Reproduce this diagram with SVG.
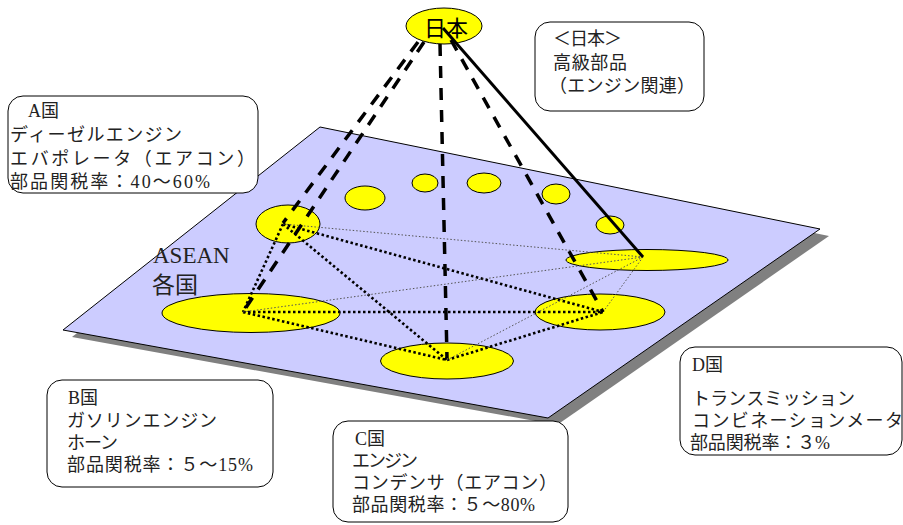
<svg xmlns="http://www.w3.org/2000/svg" width="903" height="525" viewBox="0 0 903 525">
<defs>
<style>
.plane{fill:#CCCCFF;stroke:#000;stroke-width:1}
.shadow{fill:#808080;stroke:none}
.yel{fill:#FFFF00;stroke:#000;stroke-width:1}
.heavy{stroke:#000;stroke-width:2.6;stroke-dasharray:2.5 2.5;fill:none}
.thin{stroke:#555;stroke-width:1;stroke-dasharray:1.5 2;fill:none}
.dash{stroke:#000;stroke-width:3.5;stroke-dasharray:12 10;fill:none}
.solid{stroke:#000;stroke-width:3;fill:none}
.box{fill:#fff;stroke:#000;stroke-width:1}
.t{font-family:"Liberation Serif","Noto Sans CJK JP",serif;font-size:18px;fill:#222}
.big{font-family:"Liberation Serif","Noto Sans CJK JP",serif;font-size:23px;fill:#222}
</style>
</defs>
<g id="plane">
<polygon class="shadow" points="329,134 829,236 557,425 72,337"/>
<polygon class="plane" points="320,127 820,229 548,418 63,330"/>
<text class="big" x="153" y="263">ASEAN</text>
<text class="big" x="152" y="293">各国</text>
</g>
<g id="others">
<ellipse class="yel" cx="365" cy="198" rx="20" ry="12"/>
<ellipse class="yel" cx="425" cy="183" rx="13" ry="9"/>
<ellipse class="yel" cx="484" cy="183" rx="17" ry="10"/>
<ellipse class="yel" cx="556" cy="194" rx="14" ry="10"/>
<ellipse class="yel" cx="610" cy="225" rx="14" ry="9"/>
</g>
<g id="nodeA"><ellipse class="yel" cx="288" cy="224" rx="32" ry="19"/></g>
<g id="nodeB"><ellipse class="yel" cx="251" cy="313" rx="89" ry="19.5"/></g>
<g id="nodeC"><ellipse class="yel" cx="447" cy="361" rx="66.5" ry="18"/></g>
<g id="nodeD"><ellipse class="yel" cx="600" cy="312" rx="65" ry="18"/></g>
<g id="nodeE"><ellipse class="yel" cx="647" cy="260" rx="81" ry="10.5"/></g>
<g id="japan">
<ellipse class="yel" cx="444" cy="26" rx="38" ry="18"/>
<text x="446" y="36" text-anchor="middle" style="font-family:'Noto Sans CJK JP',sans-serif;font-size:22px;fill:#000">日本</text>
</g>
<g id="connectors">
<line class="heavy" x1="283" y1="224" x2="243" y2="312"/>
<line class="heavy" x1="283" y1="224" x2="447" y2="360"/>
<line class="heavy" x1="283" y1="224" x2="603" y2="312"/>
<line class="heavy" x1="243" y1="312" x2="447" y2="360"/>
<line class="heavy" x1="243" y1="312" x2="603" y2="312"/>
<line class="heavy" x1="447" y1="360" x2="603" y2="312"/>
<line class="thin" x1="283" y1="224" x2="643" y2="257"/>
<line class="thin" x1="243" y1="312" x2="643" y2="257"/>
<line class="thin" x1="447" y1="360" x2="643" y2="257"/>
<line class="thin" x1="603" y1="312" x2="643" y2="257"/>
<line class="dash" x1="418" y1="42" x2="283" y2="223"/>
<line class="dash" x1="424" y1="42" x2="243" y2="312"/>
<line class="dash" x1="440" y1="44" x2="447" y2="358"/>
<line class="dash" x1="451" y1="40" x2="603" y2="312"/>
<line class="solid" x1="443" y1="28" x2="643" y2="257"/>
</g>
<g id="boxJapan">
<rect class="box" x="535" y="22" width="169" height="89" rx="15"/>
<text class="t" x="553" y="45" textLength="69">＜日本＞</text>
<text class="t" x="553" y="69" textLength="74">高級部品</text>
<text class="t" x="549" y="92" textLength="146">（エンジン関連）</text>
</g>
<g id="boxA">
<rect class="box" x="8" y="96" width="250" height="97" rx="15"/>
<text class="t" x="28" y="117">A国</text>
<text class="t" x="10" y="141" textLength="172">ディーゼルエンジン</text>
<text class="t" x="10" y="165" textLength="245">エバポレータ（エアコン）</text>
<text class="t" x="10" y="188" textLength="200">部品関税率：40〜60%</text>
</g>
<g id="boxB">
<rect class="box" x="47" y="380" width="226" height="107" rx="15"/>
<text class="t" x="68" y="404">B国</text>
<text class="t" x="67" y="427" textLength="150">ガソリンエンジン</text>
<text class="t" x="67" y="449" textLength="51">ホーン</text>
<text class="t" x="67" y="471" textLength="186">部品関税率：５〜15%</text>
</g>
<g id="boxC">
<rect class="box" x="333" y="421" width="235" height="101" rx="15"/>
<text class="t" x="355" y="445">C国</text>
<text class="t" x="352" y="467" textLength="66">エンジン</text>
<text class="t" x="352" y="489" textLength="205">コンデンサ（エアコン）</text>
<text class="t" x="352" y="511" textLength="183">部品関税率：５〜80%</text>
</g>
<g id="boxD">
<rect class="box" x="680" y="347" width="222" height="108" rx="15"/>
<text class="t" x="692" y="371">D国</text>
<text class="t" x="692" y="405" textLength="163">トランスミッション</text>
<text class="t" x="692" y="427" textLength="211">コンビネーションメータ</text>
<text class="t" x="690" y="449" textLength="140">部品関税率：３%</text>
</g>
</svg>
